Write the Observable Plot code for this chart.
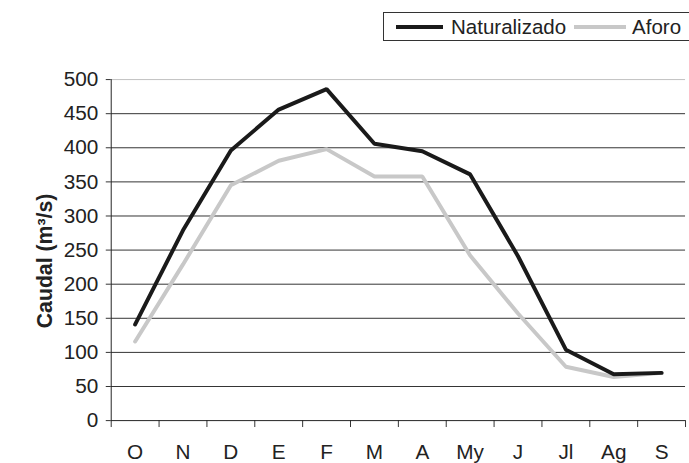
<!DOCTYPE html>
<html>
<head>
<meta charset="utf-8">
<script src="https://cdn.jsdelivr.net/npm/d3@7"></script>
<script src="https://cdn.jsdelivr.net/npm/@observablehq/plot@0.6"></script>
<style>
  html, body { margin: 0; padding: 0; background: #fff; overflow: hidden; width: 689px; height: 463px; }
  #wrap { position: relative; width: 689px; height: 463px; overflow: hidden; font-family: "Liberation Sans", Arial, sans-serif; }
  #legend { position: absolute; top: 12px; left: 383px; width: 330px; height: 29px; border: 1px solid #333; background: #fff;
            display: flex; align-items: center; font-size: 20.5px; color: #222; box-sizing: border-box; }
  .sw { display: inline-block; height: 4px; }
</style>
</head>
<body>
<div id="wrap">
  <div id="legend">
    <span class="sw" style="width:47px;background:#1a1a1a;margin-left:12px;margin-right:8px"></span><span>Naturalizado</span>
    <span class="sw" style="width:52px;background:#c8c8c8;margin-left:8px;margin-right:6px"></span><span>Aforo</span>
  </div>
</div>
<script>
const months = ["O", "N", "D", "E", "F", "M", "A", "My", "J", "Jl", "Ag", "S"];
const naturalizado = [141, 279, 396, 456, 486, 406, 395, 361, 241, 104, 68, 70];
const aforo = [116, 229, 345, 381, 398, 358, 358, 242, 157, 79, 64, 70];
const yTicks = [0, 50, 100, 150, 200, 250, 300, 350, 400, 450, 500];
const gridValues = [50, 100, 150, 200, 250, 300, 350, 400, 450];

const idx = months.map((m, i) => i);
const natData = idx.map(i => ({x: i + 0.5, y: naturalizado[i]}));
const afoData = idx.map(i => ({x: i + 0.5, y: aforo[i]}));
const boundaries = d3.range(months.length + 1);

const chart = Plot.plot({
  width: 697,
  height: 463,
  marginLeft: 112,
  marginRight: 4,
  marginTop: 80,
  marginBottom: 38,
  style: {fontFamily: "'Liberation Sans', Arial, sans-serif", fontSize: "21px", color: "#222", background: "transparent", overflow: "visible"},
  x: {type: "linear", domain: [0, months.length]},
  y: {domain: [0, 500]},
  marks: [
    Plot.ruleY(gridValues, {stroke: "#333", strokeWidth: 1}),
    Plot.ruleY([500], {stroke: "#c0c0c0", strokeWidth: 1}),
    Plot.axisY({ticks: yTicks, tickSize: 5, tickPadding: 8, label: null, fontSize: 21, stroke: "#333"}),
    Plot.axisX({ticks: boundaries, tickSize: 7, tickFormat: () => "", label: null, stroke: "#333"}),
    Plot.axisX({ticks: idx.map(i => i + 0.5), tickSize: 0, tickPadding: 24, tickFormat: (d) => months[Math.floor(d)], label: null, fontSize: 21}),
    Plot.ruleY([0], {stroke: "#222", strokeWidth: 1}),
    Plot.ruleX([0], {stroke: "#222", strokeWidth: 1}),
    Plot.line(afoData, {x: "x", y: "y", stroke: "#c8c8c8", strokeWidth: 4, strokeLinejoin: "miter"}),
    Plot.line(natData, {x: "x", y: "y", stroke: "#1a1a1a", strokeWidth: 4, strokeLinejoin: "miter"}),
    Plot.text(["Caudal (m³/s)"], {frameAnchor: "left", rotate: -90, dx: -67, dy: 11, fontWeight: "bold", fontSize: 21.5, fill: "#222", lineAnchor: "middle", textAnchor: "middle"})
  ]
});
chart.style.position = "absolute";
chart.style.left = "0px";
chart.style.top = "0px";
const wrap = document.getElementById("wrap");
wrap.insertBefore(chart, wrap.firstChild);
</script>
</body>
</html>
